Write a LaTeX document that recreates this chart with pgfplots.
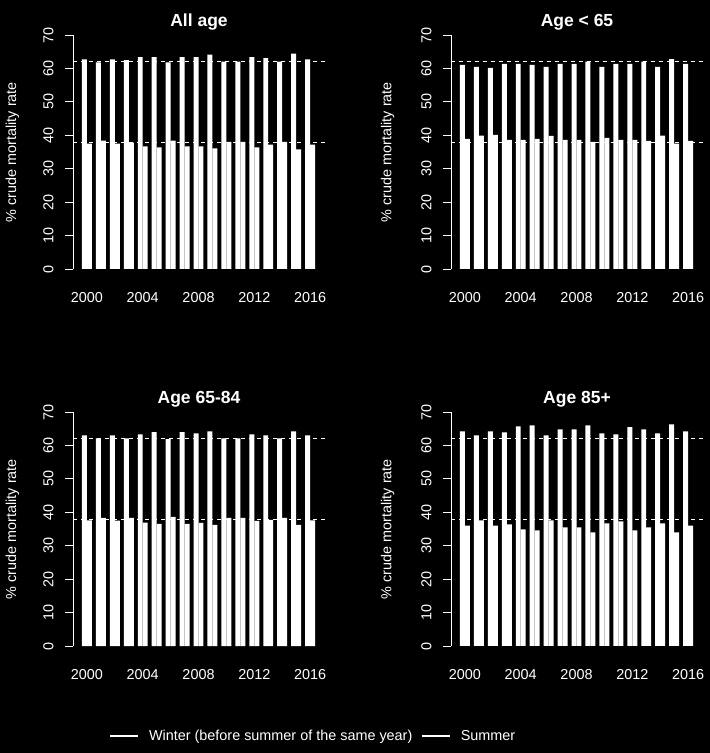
\documentclass[border=0pt]{standalone}
\usepackage{pgfplots}
\pgfplotsset{compat=1.18}
\usepackage{pgfplotstable}
\usepackage{fontspec}
\setmainfont{Liberation Sans}

\pgfplotstableread{
year W S
2000 62.7 37.5
2001 61.8 38.4
2002 62.7 37.5
2003 62.5 37.8
2004 63.4 36.7
2005 63.4 36.4
2006 61.8 38.4
2007 63.4 36.7
2008 63.4 36.7
2009 64.1 36.1
2010 62.0 38.0
2011 62.0 38.0
2012 63.4 36.4
2013 63.1 37.2
2014 62.0 38.0
2015 64.4 35.8
2016 62.7 37.2
}\tabAll

\pgfplotstableread{
year W S
2000 61.1 38.9
2001 60.5 39.9
2002 60.2 40.1
2003 61.4 38.6
2004 61.4 38.6
2005 61.1 38.9
2006 60.5 39.8
2007 61.4 38.6
2008 61.4 38.6
2009 62.0 38.0
2010 60.5 39.2
2011 61.4 38.6
2012 61.4 38.6
2013 62.0 38.3
2014 60.5 39.9
2015 62.8 37.5
2016 61.4 38.3
}\tabYoung

\pgfplotstableread{
year W S
2000 63.0 37.6
2001 62.1 38.3
2002 63.0 37.5
2003 62.1 38.3
2004 63.3 36.9
2005 64.0 36.5
2006 61.9 38.6
2007 64.0 36.5
2008 63.6 36.8
2009 64.2 36.2
2010 62.1 38.3
2011 62.1 38.3
2012 63.3 37.4
2013 63.0 37.7
2014 62.1 38.3
2015 64.2 36.2
2016 63.0 37.6
}\tabMid

\pgfplotstableread{
year W S
2000 64.2 36.0
2001 63.0 37.6
2002 64.2 36.0
2003 63.9 36.4
2004 65.7 34.9
2005 66.0 34.6
2006 63.0 37.6
2007 64.8 35.5
2008 64.8 35.5
2009 66.0 34.0
2010 63.6 36.7
2011 63.3 37.3
2012 65.5 34.6
2013 64.8 35.5
2014 63.6 36.7
2015 66.3 34.0
2016 64.2 36.0
}\tabOld

\pgfplotsset{
  panel/.style={
    scale only axis, width=252pt, height=234pt,
    xmin=1999, xmax=2017.07, ymin=0, ymax=70,
    axis y line*=left, axis x line*=bottom,
    x axis line style={draw=none},
    y axis line style={white, line width=0.8pt},
    xtick={2000,2004,...,2016}, xtick style={draw=none},
    ytick={0,10,...,70}, ytick style={white, line width=0.8pt},
    tick align=outside, major tick length=8pt,
    /pgf/number format/assume math mode=true,
    /pgf/number format/1000 sep={},
    tick label style={font=\fontsize{14.4}{16}\selectfont, text=white},
    xticklabel style={yshift=-12pt},
    yticklabel style={xshift=-8pt, rotate=90, anchor=south},
    every axis y label/.style={at={(axis description cs:-0.24,0.5)}, rotate=90, anchor=center, font=\fontsize{14.4}{16}\selectfont, text=white},
    ylabel={\% crude mortality rate},
    every axis title/.style={at={(axis description cs:0.5,1)}, anchor=center, yshift=12.5pt, font=\bfseries\fontsize{17.5}{20}\selectfont, text=white},
    clip=false,
  },
  wbar/.style={ybar, fill=white, draw=none, bar width=0.357, bar shift=-0.1785, forget plot},
  sbar/.style={ybar, fill=white, draw=none, bar width=0.357, bar shift=0.1785, forget plot},
  ref/.style={white, line width=0.8pt, dash pattern=on 4pt off 4pt, forget plot},
}

\begin{document}
\begin{tikzpicture}
\fill[black] (0,0) rectangle (710pt,753pt);

% All age
\begin{axis}[panel, at={(73pt,484pt)}, anchor=south west, title={All age}]
\addplot[ref] coordinates {(1999,62) (2017.07,62)};
\addplot[ref] coordinates {(1999,38) (2017.07,38)};
\addplot[wbar] table[x=year,y=W] {\tabAll};
\addplot[sbar] table[x=year,y=S] {\tabAll};
\end{axis}

% Age < 65
\begin{axis}[panel, at={(451pt,484pt)}, anchor=south west, title={Age < 65},
  every axis y label/.append style={at={(axis description cs:-0.251,0.5)}}]
\addplot[ref] coordinates {(1999,62) (2017.07,62)};
\addplot[ref] coordinates {(1999,38) (2017.07,38)};
\addplot[wbar] table[x=year,y=W] {\tabYoung};
\addplot[sbar] table[x=year,y=S] {\tabYoung};
\end{axis}

% Age 65-84
\begin{axis}[panel, at={(73pt,107pt)}, anchor=south west, title={Age 65-84},
  legend columns=2,
  legend style={at={(axis description cs:0.952,-0.385)}, anchor=center, draw=none, fill=none,
    text=white, font=\fontsize{14.4}{16}\selectfont,
    /tikz/every even column/.append style={column sep=6pt}},
  legend image code/.code={\draw[white, line width=2.5pt] (0pt,0pt) -- (28pt,0pt); \path (37pt,0pt);}]
\addlegendimage{white}
\addlegendentry{Winter (before summer of the same year)}
\addlegendimage{white}
\addlegendentry{Summer}
\addplot[ref] coordinates {(1999,62) (2017.07,62)};
\addplot[ref] coordinates {(1999,38) (2017.07,38)};
\addplot[wbar] table[x=year,y=W] {\tabMid};
\addplot[sbar] table[x=year,y=S] {\tabMid};
\end{axis}

% Age 85+
\begin{axis}[panel, at={(451pt,107pt)}, anchor=south west, title={Age 85+},
  every axis y label/.append style={at={(axis description cs:-0.251,0.5)}}]
\addplot[ref] coordinates {(1999,62) (2017.07,62)};
\addplot[ref] coordinates {(1999,38) (2017.07,38)};
\addplot[wbar] table[x=year,y=W] {\tabOld};
\addplot[sbar] table[x=year,y=S] {\tabOld};
\end{axis}
\end{tikzpicture}
\end{document}
